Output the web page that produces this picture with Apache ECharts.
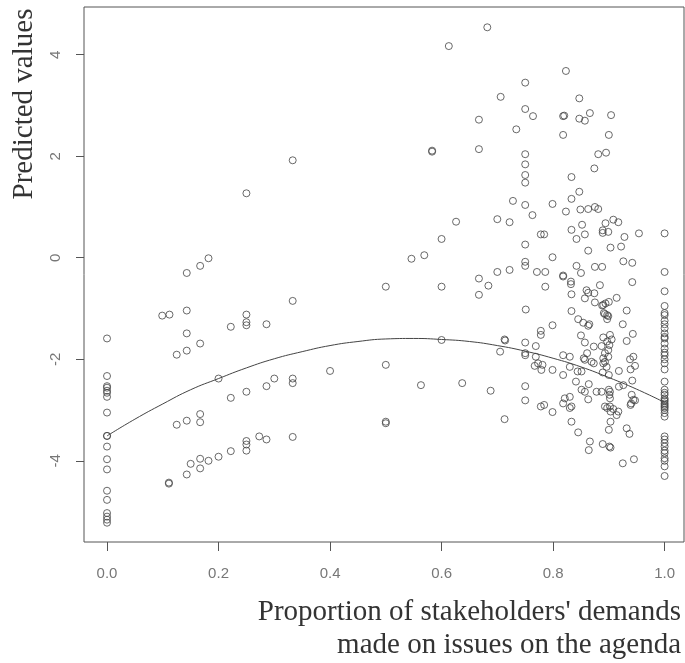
<!DOCTYPE html>
<html>
<head>
<meta charset="utf-8">
<script src="https://cdn.jsdelivr.net/npm/echarts@6/dist/echarts.min.js"></script>
<style>
  html, body { margin: 0; padding: 0; background: #fff; }
  #chart { width: 685px; height: 663px; }
</style>
</head>
<body>
<div id="chart"></div>
<script>
// x = 0 column and x = 1 column (predicted values)
var zeroColumn = [-1.59, -2.33, -2.53, -2.56, -2.62, -2.66, -2.74, -3.05, -3.51, -3.51,
  -3.72, -3.97, -4.17, -4.59, -4.77, -5.03, -5.10, -5.16, -5.22]
var oneColumn = [0.48, -0.28, -0.66, -0.95, -1.09, -1.13, -1.24, -1.31, -1.39, -1.49,
  -1.56, -1.59, -1.69, -1.79, -1.87, -1.92, -2.00, -2.08, -2.20, -2.44, -2.60, -2.66,
  -2.70, -2.77, -2.80, -2.83, -2.87, -2.90, -2.93, -2.96, -3.00, -3.06, -3.13, -3.52,
  -3.58, -3.65, -3.72, -3.80, -3.85, -3.95, -4.00, -4.11, -4.30]

// [proportion, predicted]
var leftPoints = [[0.099,-1.14],[0.112,-1.12],[0.143,-1.04],[0.143,-1.49],[0.125,-1.91],
  [0.143,-1.83],[0.167,-1.69],[0.222,-1.36],[0.25,-1.12],[0.25,-1.27],[0.25,-1.33],
  [0.286,-1.31],[0.333,-0.85],[0.2,-2.38],[0.4,-2.23],[0.222,-2.76],[0.25,-2.64],
  [0.286,-2.53],[0.3,-2.38],[0.333,-2.38],[0.333,-2.47],[0.125,-3.29],[0.143,-3.21],
  [0.167,-3.08],[0.167,-3.24],[0.273,-3.52],[0.286,-3.58],[0.25,-3.61],[0.25,-3.68],
  [0.25,-3.80],[0.333,-3.53],[0.222,-3.81],[0.2,-3.92],[0.182,-4.00],[0.167,-3.96],
  [0.167,-4.15],[0.15,-4.06],[0.143,-4.27],[0.111,-4.43],[0.111,-4.45],
  [0.333,1.92],[0.25,1.27],[0.143,-0.30],[0.167,-0.16],[0.182,-0.01]]

var middlePoints = [[0.682,4.54],[0.613,4.17],[0.706,3.17],[0.667,2.72],[0.583,2.11],
  [0.583,2.09],[0.667,2.14],[0.626,0.71],[0.7,0.76],[0.722,0.70],[0.6,0.37],[0.546,-0.02],
  [0.569,0.05],[0.5,-0.57],[0.6,-0.57],[0.667,-0.41],[0.684,-0.55],[0.667,-0.73],
  [0.7,-0.28],[0.722,-0.24],[0.5,-2.11],[0.563,-2.51],[0.637,-2.47],[0.688,-2.62],
  [0.5,-3.23],[0.5,-3.26],[0.6,-1.62],[0.713,-3.18],[0.705,-1.85],[0.713,-1.61],
  [0.714,-1.63],[0.734,2.53],[0.728,1.12]]

var rightUpperPoints = [[0.823,3.68],[0.75,3.45],[0.847,3.14],[0.75,2.93],[0.764,2.79],
  [0.818,2.79],[0.82,2.80],[0.847,2.74],[0.857,2.70],[0.866,2.85],[0.904,2.81],[0.818,2.42],
  [0.9,2.42],[0.75,2.04],[0.75,1.84],[0.75,1.63],[0.75,1.48],[0.881,2.04],[0.895,2.07],
  [0.874,1.76],[0.833,1.59],[0.847,1.30],[0.833,1.16],[0.75,1.04],[0.799,1.06],[0.823,0.91],
  [0.849,0.95],[0.863,0.96],[0.875,1.00],[0.881,0.96],[0.763,0.84],[0.75,0.26],[0.778,0.46],
  [0.784,0.46],[0.799,0.01],[0.75,-0.08],[0.75,-0.16],[0.771,-0.28],[0.786,-0.28],
  [0.786,-0.57],[0.818,-0.35],[0.818,-0.37],[0.832,-0.47],[0.832,-0.52],[0.833,-0.72],
  [0.842,-0.16],[0.85,-0.30],[0.833,0.55],[0.852,0.65],[0.857,0.46],[0.842,0.37],
  [0.863,0.14],[0.875,-0.18],[0.888,-0.18],[0.86,-0.64],[0.863,-0.69],[0.874,-0.70],
  [0.857,-0.80],[0.884,-0.54],[0.889,0.54],[0.889,0.49],[0.899,0.51],[0.894,0.68],
  [0.908,0.75],[0.917,0.70],[0.928,0.41],[0.954,0.48],[0.903,0.20],[0.922,0.22],
  [0.926,-0.07],[0.942,-0.10],[0.942,-0.48],[0.914,-0.79],[0.875,-0.88],[0.9,-0.87],
  [0.894,-0.90],[0.888,-0.94],[0.89,-0.93],[0.751,-1.02],[0.833,-1.05],[0.932,-1.04],
  [0.891,-1.09],[0.897,-1.13]]

var rightLowerPoints = [[0.845,-1.21],[0.865,-1.31],[0.863,-1.34],[0.893,-1.11],[0.899,-1.15],
  [0.897,-1.21],[0.799,-1.33],[0.778,-1.44],[0.925,-1.31],[0.943,-1.50],[0.932,-1.64],
  [0.85,-1.53],[0.857,-1.67],[0.873,-1.75],[0.902,-1.52],[0.897,-1.65],[0.901,-1.72],
  [0.89,-1.57],[0.887,-1.74],[0.905,-1.61],[0.75,-1.67],[0.769,-1.74],[0.75,-1.88],
  [0.75,-1.92],[0.778,-1.52],[0.818,-1.92],[0.83,-1.95],[0.855,-1.98],[0.861,-1.88],
  [0.857,-2.01],[0.769,-1.95],[0.773,-2.08],[0.767,-2.13],[0.779,-2.21],[0.781,-2.11],
  [0.799,-2.21],[0.818,-2.31],[0.83,-2.15],[0.844,-2.24],[0.851,-2.24],[0.869,-2.05],
  [0.873,-2.08],[0.89,-1.98],[0.893,-1.88],[0.899,-1.82],[0.89,-2.08],[0.899,-1.95],
  [0.893,-2.05],[0.896,-2.15],[0.889,-2.26],[0.9,-2.31],[0.918,-2.23],[0.938,-2.00],
  [0.944,-1.95],[0.947,-2.13],[0.939,-2.20],[0.75,-2.53],[0.75,-2.81],[0.778,-2.93],
  [0.784,-2.90],[0.799,-3.04],[0.818,-2.87],[0.821,-2.77],[0.83,-2.74],[0.833,-2.93],
  [0.83,-2.96],[0.841,-2.44],[0.864,-2.49],[0.851,-2.60],[0.857,-2.64],[0.863,-2.79],
  [0.878,-2.64],[0.887,-2.64],[0.9,-2.60],[0.902,-2.64],[0.901,-2.70],[0.902,-2.77],
  [0.893,-2.93],[0.897,-2.96],[0.902,-2.93],[0.903,-3.03],[0.917,-3.03],[0.908,-2.98],
  [0.918,-2.54],[0.926,-2.51],[0.941,-2.70],[0.947,-2.81],[0.944,-2.80],[0.939,-2.90],
  [0.942,-2.42],[0.94,-2.87],[0.833,-3.23],[0.845,-3.44],[0.866,-3.62],[0.864,-3.79],
  [0.889,-3.67],[0.901,-3.72],[0.903,-3.74],[0.9,-3.39],[0.903,-3.23],[0.932,-3.36],
  [0.937,-3.47],[0.925,-4.05],[0.945,-3.97],[0.914,-3.10],[0.854,-1.28]]

// fitted curve
var curveX = [0, 0.05, 0.1, 0.15, 0.2, 0.25, 0.3, 0.35, 0.4, 0.45, 0.5, 0.55, 0.6, 0.65,
  0.7, 0.75, 0.8, 0.85, 0.9, 0.95, 1.0]
var curveY = [-3.51, -3.18, -2.88, -2.60, -2.38, -2.17, -1.99, -1.85, -1.73, -1.65, -1.60,
  -1.59, -1.61, -1.65, -1.73, -1.84, -1.98, -2.15, -2.36, -2.59, -2.85]

var xTicks = [0, 0.2, 0.4, 0.6, 0.8, 1.0]
var yTicks = [-4, -2, 0, 2, 4]

var xTitleLines = ["Proportion of stakeholders' demands", 'made on issues on the agenda']
var yTitle = 'Predicted values'

var points = zeroColumn.map(function (v) { return [0, v] })
  .concat(leftPoints, middlePoints, rightUpperPoints, rightLowerPoints)
  .concat(oneColumn.map(function (v) { return [1, v] }))

var curve = curveX.map(function (x, i) { return [x, curveY[i]] })

var titleFont = '29px "Liberation Serif"'

var chart = echarts.init(document.getElementById('chart'))
chart.setOption({
  backgroundColor: '#fff',
  animation: false,
  grid: {
    left: 84,
    right: 1,
    top: 7,
    bottom: 121,
    show: true,
    borderColor: '#555',
    borderWidth: 1
  },
  xAxis: {
    type: 'value',
    min: -0.0413,
    max: 1.0348,
    axisLine: { show: false, onZero: false },
    splitLine: { show: false },
    axisTick: {
      show: true,
      length: 9,
      customValues: xTicks,
      lineStyle: { color: '#555' }
    },
    axisLabel: {
      customValues: xTicks,
      margin: 24,
      color: '#777',
      fontSize: 15,
      fontFamily: 'Liberation Sans',
      formatter: function (v) { return v.toFixed(1) }
    }
  },
  yAxis: {
    type: 'value',
    min: -5.6,
    max: 4.94,
    axisLine: { show: false, onZero: false },
    splitLine: { show: false },
    axisTick: {
      show: true,
      length: 8,
      customValues: yTicks,
      lineStyle: { color: '#555' }
    },
    axisLabel: {
      customValues: yTicks,
      rotate: 90,
      margin: 21,
      color: '#777',
      fontSize: 15,
      fontFamily: 'Liberation Sans'
    }
  },
  graphic: [{
    type: 'text',
    x: 24,
    y: 104,
    rotation: Math.PI / 2,
    style: {
      text: yTitle,
      font: titleFont,
      fill: '#333',
      align: 'center',
      verticalAlign: 'middle'
    }
  }, {
    type: 'text',
    x: 681,
    y: 612,
    style: {
      text: xTitleLines[0],
      font: titleFont,
      fill: '#333',
      align: 'right',
      verticalAlign: 'middle'
    }
  }, {
    type: 'text',
    x: 681,
    y: 645,
    style: {
      text: xTitleLines[1],
      font: titleFont,
      fill: '#333',
      align: 'right',
      verticalAlign: 'middle'
    }
  }],
  series: [{
    type: 'scatter',
    data: points,
    symbol: 'circle',
    symbolSize: 7,
    silent: true,
    itemStyle: {
      color: 'rgba(255,255,255,0)',
      borderColor: '#444',
      borderWidth: 1
    }
  }, {
    type: 'line',
    data: curve,
    smooth: true,
    showSymbol: false,
    silent: true,
    lineStyle: { color: '#444', width: 1 }
  }]
})
</script>
</body>
</html>
